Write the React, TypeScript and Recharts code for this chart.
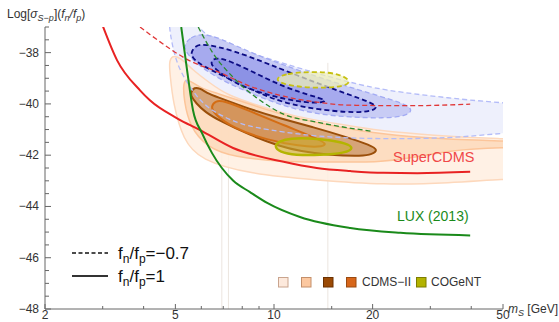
import React from "react";
import { ScatterChart, Scatter, XAxis, YAxis, ReferenceLine } from "recharts";

// axis ticks
const xTicks = [2, 3, 4, 5, 6, 7, 8, 9, 10, 15, 20, 30, 40, 50];
const xMajor = [2, 5, 10, 20, 50];
const yTicks = [-48, -47.5, -47, -46.5, -46, -45.5, -45, -44.5, -44, -43.5, -43, -42.5, -42, -41.5, -41, -40.5, -40, -39.5, -39, -38.5, -38, -37.5, -37];
const yMajor = [-48, -46, -44, -42, -40, -38];

// exclusion limits [m_S GeV, log sigma]
const superCdmsSolid = [[3.0, -36.95], [3.32, -38.3], [3.9, -39.47], [4.18, -39.86], [5.06, -40.56], [5.95, -41.02], [7.5, -41.72], [10.7, -42.26], [13.5, -42.5], [17.1, -42.62], [21.6, -42.69], [27.4, -42.7], [39.7, -42.65]];
const superCdmsDashed = [[3.9, -37.0], [4.18, -37.29], [5.66, -38.38], [6.7, -38.73], [8.45, -39.31], [10.7, -39.7], [13.5, -39.93], [17.1, -40.05], [26.1, -40.07], [39.7, -40.01]];
const luxSolid = [[5.21, -37.0], [5.43, -38.69], [5.66, -40.25], [6.03, -41.14], [6.47, -41.92], [7.5, -42.99], [8.45, -43.44], [9.53, -43.86], [12.0, -44.41], [17.1, -44.84], [24.3, -45.03], [39.7, -45.13]];
const luxDashed = [[5.87, -37.0], [6.52, -38.03], [7.5, -38.96], [9.07, -39.86], [10.7, -40.4], [13.5, -40.71], [19.7, -41.06]];

// CDMS-II regions, fn/fp = 1
const cdmsOuter = [[4.78, -38.38], [4.89, -38.1], [5.17, -38.18], [5.66, -38.69], [6.38, -39.19], [7.19, -39.66], [9.07, -40.09], [11.4, -40.48], [15.9, -40.79], [21.1, -41.06], [30.0, -41.22], [50, -41.37], [67, -41.41], [67, -42.89], [50, -42.93], [34.5, -43.09], [21.6, -43.16], [13.5, -42.97], [8.45, -42.74], [5.95, -42.19], [5.28, -41.41], [4.92, -39.97], [4.82, -38.88]];
const cdmsMid = [[5.28, -39.16], [5.43, -39.0], [5.95, -39.39], [6.7, -39.58], [8.45, -40.01], [11.2, -40.52], [15.9, -40.91], [21.1, -41.18], [32.2, -41.37], [50, -41.45], [67, -41.49], [67, -41.69], [50, -41.69], [34.5, -41.8], [26.6, -42.11], [21.1, -42.27], [15.2, -42.27], [10.7, -42.27], [7.5, -42.07], [6.25, -41.69], [5.54, -40.91], [5.31, -39.86]];
const cdmsDark = [[5.58, -39.54], [5.7, -39.35], [5.95, -39.39], [6.25, -39.58], [6.61, -39.7], [8.45, -40.21], [10.4, -40.56], [13.2, -40.91], [16.7, -41.3], [19.7, -41.61], [20.8, -41.8], [19.9, -41.96], [18.7, -42.04], [14.8, -42.0], [12.0, -41.84], [10.4, -41.65], [8.45, -41.22], [6.85, -40.67], [6.16, -40.32], [5.78, -39.97], [5.58, -39.7]];
const cdmsCore = [[6.43, -40.09], [6.61, -39.89], [7.0, -39.86], [8.45, -40.28], [10.7, -40.83], [13.5, -41.34], [14.6, -41.57], [13.8, -41.69], [12.0, -41.65], [9.53, -41.41], [7.5, -40.95], [6.52, -40.36]];

// CDMS-II regions, fn/fp = -0.7
const isoOuter = [[4.78, -36.16], [5.62, -36.16], [5.83, -37.02], [6.38, -37.41], [7.5, -37.75], [9.07, -38.14], [10.7, -38.42], [13.5, -38.81], [17.1, -39.16], [21.6, -39.47], [34.5, -39.78], [50, -39.97], [67, -40.05], [67, -41.02], [50, -41.14], [34.5, -41.34], [21.6, -41.37], [13.5, -41.3], [8.45, -40.91], [7.35, -40.63], [6.25, -40.17], [5.66, -39.54], [5.1, -38.61], [4.89, -37.72], [4.78, -36.94]];
const isoMid = [[5.31, -37.72], [5.54, -37.4], [6.08, -37.25], [6.85, -37.44], [8.45, -37.99], [10.7, -38.49], [15.2, -39.16], [21.6, -39.74], [25.2, -40.01], [26.6, -40.25], [25.2, -40.48], [21.6, -40.56], [17.1, -40.52], [13.5, -40.4], [10.7, -40.09], [8.45, -39.58], [6.7, -39.0], [5.74, -38.38], [5.39, -37.99]];
const isoDark = [[5.58, -37.99], [5.74, -37.75], [6.08, -37.64], [7.5, -37.91], [9.53, -38.42], [13.5, -39.19], [17.9, -39.74], [19.9, -39.97], [20.7, -40.13], [19.9, -40.28], [17.1, -40.36], [12.0, -40.13], [9.53, -39.74], [7.5, -39.08], [5.95, -38.49], [5.62, -38.18]];
const isoCore = [[6.38, -38.38], [6.7, -38.1], [8.45, -38.69], [10.7, -39.35], [13.5, -39.74], [14.5, -39.86], [14.0, -39.97], [12.0, -39.93], [9.53, -39.66], [7.5, -39.19], [6.52, -38.57]];

// CoGeNT
const cogentSolid = [[10.0, -41.65], [10.4, -41.45], [11.2, -41.34], [12.9, -41.34], [14.8, -41.41], [16.5, -41.53], [17.6, -41.72], [16.5, -41.92], [13.8, -42.0], [11.6, -42.0], [10.4, -41.88]];
const cogentDashed = [[10.0, -39.04], [10.8, -38.81], [13.2, -38.73], [15.9, -38.81], [17.4, -39.16], [15.9, -39.35], [13.2, -39.39], [10.8, -39.27]];

// faint plot seams
const seamMasses = [6.93, 7.26, 14.6];
const seamTops = [-40.8, -40.8, -38.4];

const pts = (a: number[][]) => a.map(([x, y]) => ({ x, y }));
const Blank = () => <g />;
const FONT = "'Liberation Sans', Arial, sans-serif";

const region = (key: string, data: number[][], style: any, closed = true) => (
  <Scatter
    key={key}
    data={pts(data)}
    line={style}
    lineType="joint"
    lineJointType={closed ? "basisClosed" : "monotoneX"}
    shape={Blank}
    legendType="none"
    isAnimationActive={false}
  />
);

const XTick = ({ x, y, payload }: any) => {
  const v = payload.value;
  const major = xMajor.includes(v);
  return (
    <g>
      <line x1={x} x2={x} y1={y} y2={y - (major ? 5 : 3)} stroke="#666" />
      {major && (
        <text x={x} y={y + 10} textAnchor="middle" fontSize={12} fill="#333" fontFamily={FONT}>
          {v}
        </text>
      )}
    </g>
  );
};

const YTick = ({ x, y, payload }: any) => {
  const v = payload.value;
  const major = yMajor.includes(v);
  return (
    <g>
      <line x1={x} x2={x + (major ? 6 : 4)} y1={y} y2={y} stroke="#666" />
      {major && (
        <text x={x - 6} y={y + 4} textAnchor="end" fontSize={12} fill="#333" fontFamily={FONT}>
          {"\u2212" + Math.abs(v)}
        </text>
      )}
    </g>
  );
};

const dashBlue = "5 3";

export default function App() {
  return (
    <div style={{ position: "absolute", left: 0, top: 0, width: 559, height: 322, background: "#fff", fontFamily: FONT }}>
      <ScatterChart width={559} height={322} margin={{ top: 27, right: 56, bottom: 0, left: 0 }}>
        <XAxis
          dataKey="x"
          type="number"
          scale="log"
          domain={[2, 50]}
          allowDataOverflow
          ticks={xTicks}
          interval={0}
          height={13}
          tickSize={0}
          tickMargin={0}
          tickLine={false}
          tick={<XTick />}
          stroke="#666"
        />
        <YAxis
          dataKey="y"
          type="number"
          domain={[-48, -37]}
          allowDataOverflow
          ticks={yTicks}
          interval={0}
          width={45}
          tickSize={0}
          tickMargin={0}
          tickLine={false}
          tick={<YTick />}
          stroke="#666"
        />
        {region("isoOuterFill", isoOuter, { fill: "#eef0fc", stroke: "none" })}
        {region("cdmsOuter", cdmsOuter, { fill: "#ffeee0", fillOpacity: 0.85, stroke: "#fdd8bc", strokeWidth: 1.5 })}
        {region("cdmsMid", cdmsMid, { fill: "#fdd8b8", fillOpacity: 0.8, stroke: "#fcc59a", strokeWidth: 1.5 })}
        {region("cdmsDark", cdmsDark, { fill: "#d6a478", stroke: "#9b4f0a", strokeWidth: 2 })}
        {region("cdmsCore", cdmsCore, { fill: "#d4955c", stroke: "#d46d14", strokeWidth: 2 })}
        {region("isoOuterLine", isoOuter, { fill: "none", stroke: "#b4bcf8", strokeWidth: 1.3, strokeDasharray: dashBlue })}
        {region("isoMid", isoMid, { fill: "#c8ccf5", stroke: "#a2aaf3", strokeWidth: 1.3, strokeDasharray: dashBlue })}
        {region("isoDark", isoDark, { fill: "#a6aaee", stroke: "#0c0c84", strokeWidth: 1.8, strokeDasharray: dashBlue })}
        {region("isoCore", isoCore, { fill: "#8a8fe3", fillOpacity: 0.9, stroke: "#0c0c84", strokeWidth: 1.8, strokeDasharray: dashBlue })}
        {region("cogentDashed", cogentDashed, { fill: "#eeeeb4", fillOpacity: 0.7, stroke: "#c6c012", strokeWidth: 1.8, strokeDasharray: dashBlue })}
        {region("cogentSolid", cogentSolid, { fill: "#c9b030", fillOpacity: 0.55, stroke: "#b4b400", strokeWidth: 2.5 })}
        {seamMasses.map((m, i) => (
          <ReferenceLine key={"seam" + i} segment={[{ x: m, y: -48 }, { x: m, y: seamTops[i] }]} stroke="#e6dcd4" strokeOpacity={0.75} />
        ))}
        {region("superCdmsDashed", superCdmsDashed, { fill: "none", stroke: "#e03838", strokeWidth: 1.3, strokeDasharray: "5 3" }, false)}
        {region("luxDashed", luxDashed, { fill: "none", stroke: "#2a8a2a", strokeWidth: 1.3, strokeDasharray: "5 3" }, false)}
        {region("superCdmsSolid", superCdmsSolid, { fill: "none", stroke: "#e82222", strokeWidth: 2 }, false)}
        {region("luxSolid", luxSolid, { fill: "none", stroke: "#1a8a1a", strokeWidth: 2 }, false)}
      </ScatterChart>
      <svg width={559} height={322} style={{ position: "absolute", left: 0, top: 0, pointerEvents: "none" }} fontFamily={FONT}>
        <text x={7} y={18} fontSize={12} fill="#333">
          Log[<tspan fontStyle="italic">σ</tspan>
          <tspan fontSize={9} dy={3} fontStyle="italic">S−p</tspan>
          <tspan dy={-3}>](</tspan>
          <tspan fontStyle="italic">f</tspan>
          <tspan fontSize={9} dy={3} fontStyle="italic">n</tspan>
          <tspan dy={-3} fontStyle="italic">/f</tspan>
          <tspan fontSize={9} dy={3} fontStyle="italic">p</tspan>
          <tspan dy={-3}>)</tspan>
        </text>
        <text x={508} y={313} fontSize={12} fill="#333">
          <tspan fontStyle="italic">m</tspan>
          <tspan fontSize={9} dy={3} fontStyle="italic">S</tspan>
          <tspan dy={-3}> [GeV]</tspan>
        </text>
        <text x={393} y={162} fontSize={14.5} fill="#f04848">SuperCDMS</text>
        <text x={397} y={221} fontSize={14} fill="#1a8a1a">LUX (2013)</text>
        <line x1={72} x2={108} y1={253} y2={253} stroke="#111" strokeWidth={1.3} strokeDasharray="4 2.5" />
        <text x={118} y={259} fontSize={17} fill="#111">
          f<tspan fontSize={12} dy={4}>n</tspan>
          <tspan dy={-4}>/f</tspan>
          <tspan fontSize={12} dy={4}>p</tspan>
          <tspan dy={-4}>=−0.7</tspan>
        </text>
        <line x1={72} x2={108} y1={276} y2={276} stroke="#333" strokeWidth={2} />
        <text x={118} y={282} fontSize={17} fill="#111">
          f<tspan fontSize={12} dy={4}>n</tspan>
          <tspan dy={-4}>/f</tspan>
          <tspan fontSize={12} dy={4}>p</tspan>
          <tspan dy={-4}>=1</tspan>
        </text>
        <rect x={278.5} y={277.5} width={9.5} height={9.5} fill="#fde9dc" stroke="#c9a48e" />
        <rect x={301.5} y={277.5} width={9.5} height={9.5} fill="#fcc8a0" stroke="#c48f6a" />
        <rect x={323.5} y={277.5} width={9.5} height={9.5} fill="#9b4a05" stroke="#6a3000" />
        <rect x={346.5} y={277.5} width={9.5} height={9.5} fill="#d7661a" stroke="#9a4a10" />
        <text x={362} y={286} fontSize={12} fill="#333">CDMS−II</text>
        <rect x={416.5} y={277.5} width={9.5} height={9.5} fill="#b3b300" stroke="#7d7d00" />
        <text x={431} y={286} fontSize={12} fill="#333">COGeNT</text>
      </svg>
    </div>
  );
}
